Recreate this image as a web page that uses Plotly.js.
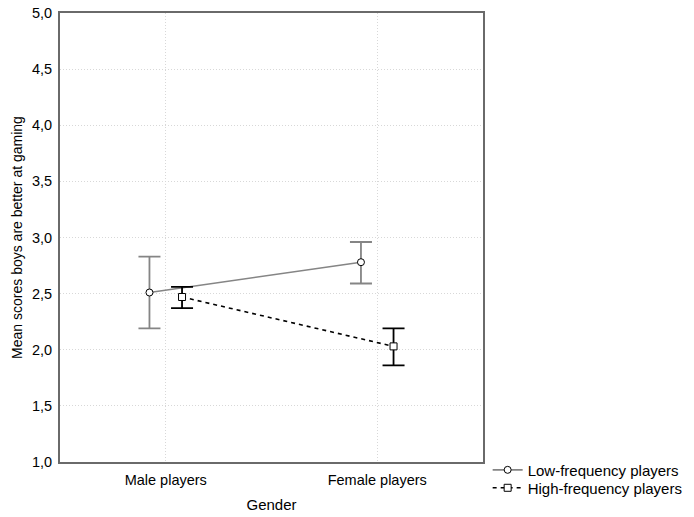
<!DOCTYPE html>
<html>
<head>
<meta charset="utf-8">
<script src="https://cdn.plot.ly/plotly-3.0.1.min.js"></script>
<style>html,body{margin:0;padding:0;background:#fff;}#chart{width:694px;height:517px;}</style>
</head>
<body>
<div id="chart"></div>
<script>
var categories = ["Male players", "Female players"];
var lowMean = [2.51, 2.78];
var lowUpper = [2.83, 2.96];
var lowLower = [2.19, 2.59];
var highMean = [2.47, 2.03];
var highUpper = [2.56, 2.19];
var highLower = [2.37, 1.86];
var seriesNames = ["Low-frequency players", "High-frequency players"];
var yTickVals = [1.0, 1.5, 2.0, 2.5, 3.0, 3.5, 4.0, 4.5, 5.0];

var offset = 0.077;
var idx = categories.map(function(c, i){ return i; });
function plus(m, u){ return m.map(function(v,i){ return u[i]-v; }); }
function minus(m, l){ return m.map(function(v,i){ return v-l[i]; }); }

var gray = '#858585';
var traces = [
  {
    x: idx.map(function(i){ return i - offset; }),
    y: lowMean,
    name: seriesNames[0],
    legend: 'legend',
    type: 'scatter',
    mode: 'lines+markers',
    line: {color: gray, width: 1.6},
    marker: {symbol: 'circle', size: 7, color: '#ffffff', line: {color: '#000000', width: 1}},
    error_y: {type: 'data', symmetric: false, array: plus(lowMean, lowUpper), arrayminus: minus(lowMean, lowLower), color: gray, thickness: 1.8, width: 11}
  },
  {
    x: idx.map(function(i){ return i + offset; }),
    y: highMean,
    name: seriesNames[1],
    legend: 'legend2',
    type: 'scatter',
    mode: 'lines+markers',
    line: {color: '#000000', width: 1.6, dash: '4px,4px'},
    marker: {symbol: 'square', size: 7, color: '#ffffff', line: {color: '#000000', width: 1}},
    error_y: {type: 'data', symmetric: false, array: plus(highMean, highUpper), arrayminus: minus(highMean, highLower), color: '#000000', thickness: 1.8, width: 11}
  }
];

var legendBase = {xanchor: 'left', yanchor: 'middle', bgcolor: 'rgba(0,0,0,0)', font: {size: 15}, itemwidth: 30, borderwidth: 0};
var layout = {
  width: 694, height: 517,
  margin: {l: 60, r: 211, t: 13, b: 55, autoexpand: false},
  paper_bgcolor: '#ffffff', plot_bgcolor: '#ffffff',
  font: {family: '"Liberation Sans", Arial, sans-serif', size: 14.5, color: '#000000'},
  showlegend: true,
  legend: Object.assign({}, legendBase, {x: 1.011, y: -0.018}),
  legend2: Object.assign({}, legendBase, {x: 1.011, y: -0.058}),
  xaxis: {
    range: [-0.5, 1.5],
    tickvals: idx, ticktext: categories,
    showgrid: true, gridcolor: '#d8d8d8', griddash: '1px,2px', gridwidth: 1,
    zeroline: false,
    showline: true, linecolor: '#6a6a6a', linewidth: 2, mirror: true,
    ticks: 'outside', ticklen: 4, tickcolor: 'rgba(0,0,0,0)',
    title: {text: 'Gender', font: {size: 15}, standoff: 12},
    tickfont: {size: 14.5}
  },
  yaxis: {
    range: [1, 5],
    tickvals: yTickVals,
    ticktext: yTickVals.map(function(v){ return v.toFixed(1).replace('.', ','); }),
    showgrid: true, gridcolor: '#d8d8d8', griddash: '1px,2px', gridwidth: 1,
    zeroline: false,
    showline: true, linecolor: '#6a6a6a', linewidth: 2, mirror: true,
    ticks: 'outside', ticklen: 3, tickcolor: 'rgba(0,0,0,0)',
    title: {text: 'Mean scores boys are better at gaming', font: {size: 14}, standoff: 6},
    tickfont: {size: 14.5}
  }
};

Plotly.newPlot('chart', traces, layout, {displayModeBar: false, staticPlot: true});
</script>
</body>
</html>
